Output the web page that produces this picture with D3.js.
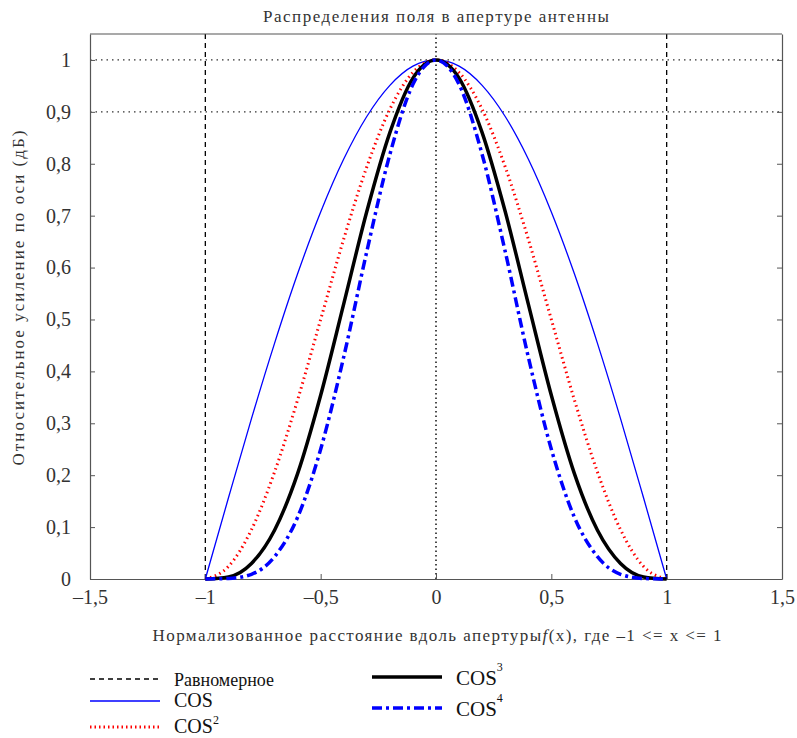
<!DOCTYPE html>
<html>
<head>
<meta charset="utf-8">
<script src="https://cdn.jsdelivr.net/npm/d3@7"></script>
<style>
  body { margin: 0; background: #fff; }
  svg text { font-family: "Liberation Serif", "Times New Roman", Tinos, "DejaVu Serif", serif; fill: #333; }
</style>
</head>
<body>
<svg id="chart" width="797" height="738"></svg>
<script>
// x positions along the aperture
var xs = [-1, -0.9, -0.8, -0.7, -0.6, -0.5, -0.4, -0.3, -0.2, -0.1, 0,
          0.1, 0.2, 0.3, 0.4, 0.5, 0.6, 0.7, 0.8, 0.9, 1];
var cos1 = [0, 0.156, 0.309, 0.454, 0.588, 0.707, 0.809, 0.891, 0.951, 0.988, 1,
            0.988, 0.951, 0.891, 0.809, 0.707, 0.588, 0.454, 0.309, 0.156, 0];
var cos2 = [0, 0.024, 0.095, 0.206, 0.345, 0.5, 0.655, 0.794, 0.905, 0.976, 1,
            0.976, 0.905, 0.794, 0.655, 0.5, 0.345, 0.206, 0.095, 0.024, 0];
var cos3 = [0, 0.004, 0.030, 0.094, 0.203, 0.354, 0.530, 0.708, 0.860, 0.965, 1,
            0.965, 0.860, 0.708, 0.530, 0.354, 0.203, 0.094, 0.030, 0.004, 0];
var cos4 = [0, 0.001, 0.009, 0.043, 0.119, 0.25, 0.428, 0.631, 0.818, 0.953, 1,
            0.953, 0.818, 0.631, 0.428, 0.25, 0.119, 0.043, 0.009, 0.001, 0];
var uniformX = [-1, 1];

var xTicks = [-1.5, -1, -0.5, 0, 0.5, 1, 1.5];
var yTicks = [0, 0.1, 0.2, 0.3, 0.4, 0.5, 0.6, 0.7, 0.8, 0.9, 1];
var yGrid = [0.9, 1];
var xGrid = [0];

var margin = {left: 90, right: 15, top: 34, bottom: 159};
var width = 797, height = 738;
var serif = "'Liberation Serif', 'Times New Roman', Tinos, 'DejaVu Serif', serif";

var svg = d3.select("#chart");

var x = d3.scaleLinear().domain([-1.5, 1.5]).range([margin.left, width - margin.right]);
var y = d3.scaleLinear().domain([0, 1.05]).range([height - margin.bottom, margin.top]);

function fmt(d) {
  return String(d).replace(".", ",").replace("-", "\u2013");
}

// gridlines
svg.selectAll(".gy").data(yGrid).enter().append("line")
  .attr("x1", x(-1.5)).attr("x2", x(1.5))
  .attr("y1", function(d) { return y(d); }).attr("y2", function(d) { return y(d); })
  .attr("stroke", "#333").attr("stroke-width", 1.2).attr("stroke-dasharray", "1.5,4");
svg.selectAll(".gx").data(xGrid).enter().append("line")
  .attr("x1", function(d) { return x(d); }).attr("x2", function(d) { return x(d); })
  .attr("y1", y(0)).attr("y2", y(1.05))
  .attr("stroke", "#111").attr("stroke-width", 1.5).attr("stroke-dasharray", "1.5,3");

// uniform distribution edges
svg.selectAll(".uni").data(uniformX).enter().append("line")
  .attr("x1", function(d) { return x(d); }).attr("x2", function(d) { return x(d); })
  .attr("y1", y(0)).attr("y2", y(1.05))
  .attr("stroke", "#000").attr("stroke-width", 1.3).attr("stroke-dasharray", "5,4");

// axes
var bottom = d3.axisBottom(x).tickValues(xTicks).tickSizeInner(-5).tickSizeOuter(0).tickPadding(11).tickFormat(fmt);
var left = d3.axisLeft(y).tickValues(yTicks).tickSizeInner(-5).tickSizeOuter(0).tickPadding(19).tickFormat(fmt);
var right = d3.axisRight(y).tickValues(yTicks).tickSizeInner(-5).tickSizeOuter(0).tickFormat("");

var gb = svg.append("g").attr("transform", "translate(0," + y(0) + ")").call(bottom);
var gl = svg.append("g").attr("transform", "translate(" + x(-1.5) + ",0)").call(left);
var gr = svg.append("g").attr("transform", "translate(" + x(1.5) + ",0)").call(right);
svg.append("line").attr("x1", x(-1.5)).attr("x2", x(1.5)).attr("y1", y(1.05)).attr("y2", y(1.05))
  .attr("stroke", "#555").attr("stroke-width", 1.2);
[gb, gl, gr].forEach(function(g) {
  g.attr("font-family", serif);
  g.select(".domain").attr("stroke", "#555").attr("stroke-width", 1.2);
  g.selectAll(".tick line").attr("stroke", "#555");
  g.selectAll(".tick text").style("font-size", "20px").style("fill", "#333")
    .style("font-family", serif);
});

// curves
var pts = function(vals) { return xs.map(function(d, i) { return [d, vals[i]]; }); };
var line = d3.line().x(function(d) { return x(d[0]); }).y(function(d) { return y(d[1]); })
  .curve(d3.curveMonotoneX);

var series = [
  {vals: cos1, color: "#0000ff", w: 1.3, dash: null},
  {vals: cos2, color: "#ff0000", w: 3, dash: "1.5,3.5"},
  {vals: cos3, color: "#000000", w: 3.5, dash: null},
  {vals: cos4, color: "#0000ff", w: 3.5, dash: "10,4,3,4"}
];
series.forEach(function(s) {
  svg.append("path").datum(pts(s.vals)).attr("d", line)
    .attr("fill", "none").attr("stroke", s.color).attr("stroke-width", s.w)
    .attr("stroke-dasharray", s.dash);
});

// titles
svg.append("text").attr("x", 436).attr("y", 22).attr("text-anchor", "middle")
  .style("font-size", "17px").style("font-family", serif)
  .attr("textLength", 346).attr("lengthAdjust", "spacing")
  .text("Распределения поля в апертуре антенны");
var xl = svg.append("text").attr("x", 437).attr("y", 641).attr("text-anchor", "middle")
  .style("font-size", "17px").style("font-family", serif)
  .attr("textLength", 569).attr("lengthAdjust", "spacing");
xl.append("tspan").text("Нормализованное расстояние вдоль апертуры");
xl.append("tspan").style("font-style", "italic").text("f");
xl.append("tspan").text("(x), где \u20131 <= x <= 1");
svg.append("text").attr("transform", "translate(24,298) rotate(-90)").attr("text-anchor", "middle")
  .style("font-size", "17px").style("font-family", serif)
  .attr("textLength", 335).attr("lengthAdjust", "spacing")
  .text("Относительное усиление по оси (дБ)");

// legend
var legend = [
  {x: 90, y: 679, color: "#000", w: 1.3, dash: "5,4", label: "Равномерное", sup: "", fs: 18, dy: 7, sdy: -14},
  {x: 90, y: 701, color: "#0000ff", w: 1.3, dash: null, label: "COS", sup: "", fs: 20, dy: 6, sdy: -14},
  {x: 90, y: 727, color: "#ff0000", w: 3, dash: "1.5,3", label: "COS", sup: "2", fs: 20, dy: 6, sdy: -9},
  {x: 372, y: 677, color: "#000", w: 3.5, dash: null, label: "COS", sup: "3", fs: 21, dy: 8, sdy: -14},
  {x: 372, y: 708, color: "#0000ff", w: 3.5, dash: "10,4,3,4", label: "COS", sup: "4", fs: 21, dy: 8, sdy: -14}
];
legend.forEach(function(l) {
  svg.append("line").attr("x1", l.x).attr("x2", l.x + 70).attr("y1", l.y).attr("y2", l.y)
    .attr("stroke", l.color).attr("stroke-width", l.w).attr("stroke-dasharray", l.dash);
  var t = svg.append("text").attr("x", l.x + 84).attr("y", l.y + l.dy).style("font-size", l.fs + "px")
    .style("font-family", serif).style("fill", "#111").text(l.label);
  if (l.sup) t.append("tspan").attr("dy", l.sdy).style("font-size", "12px").text(l.sup);
});
</script>
</body>
</html>
